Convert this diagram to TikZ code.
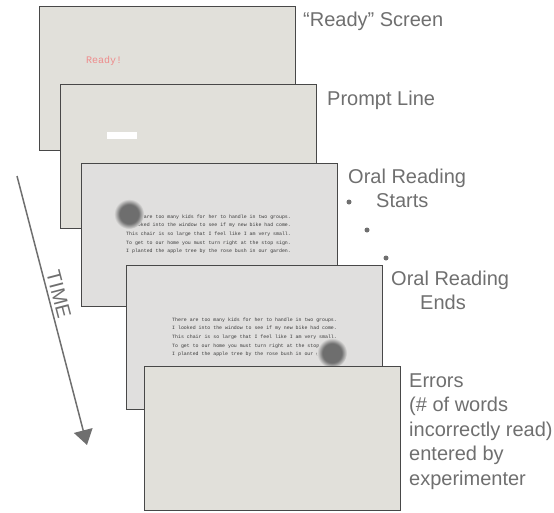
\documentclass[tikz,border=0pt]{standalone}
\usepackage{fontspec}
\usetikzlibrary{arrows.meta}
\newfontfamily\lsans{Liberation Sans}
\newfontfamily\lmono{Liberation Mono}
\definecolor{scrA}{HTML}{E1E0DA}
\definecolor{scrB}{HTML}{E0DFDE}
\definecolor{edgec}{HTML}{484848}
\definecolor{lbl}{HTML}{6F6F6F}
\definecolor{blobc}{HTML}{6E6E6E}
\definecolor{readyc}{HTML}{EE8C8C}
\definecolor{txtc}{HTML}{3A3A3A}
\pgfdeclareradialshading{blobshade}{\pgfpointorigin}{color(0bp)=(blobc); color(16bp)=(blobc); color(25bp)=(scrB); color(50bp)=(scrB)}
\begin{document}
\begin{tikzpicture}[x=1pt,y=-1pt,
  screen/.style={draw=edgec, line width=1.4pt, minimum width=256pt, minimum height=144pt, inner sep=0pt, anchor=north west},
  lab/.style={font=\lsans\fontsize{20}{24}\selectfont, text=lbl, anchor=base west, inner sep=0pt},
  rline/.style={font=\lmono\fontsize{4.9}{6}\selectfont, text=txtc, anchor=base west, inner sep=0pt},
  dotb/.style={circle, fill=lbl, inner sep=0pt, minimum size=5pt},
  timearrow/.style={draw=lbl, line width=1.5pt, -{Triangle[length=15pt,width=19pt]}}
]
\useasboundingbox (0,0) rectangle (554,512);

% screen 1
\node[screen, fill=scrA] (s1) at (39,6) {};
\node[font=\lmono\fontsize{10}{12}\selectfont, text=readyc, anchor=base west, inner sep=0pt] (ready) at (86,63) {Ready!};

% screen 2
\node[screen, fill=scrA] (s2) at (60,84) {};
\node[fill=white, minimum width=30pt, minimum height=7pt, inner sep=0pt, anchor=north west] (bar) at (107,132) {};

% screen 3
\node[screen, fill=scrB, minimum height=143pt] (s3) at (81,163) {};
\foreach \t [count=\i] in {{There are too many kids for her to handle in two groups.},
  {I looked into the window to see if my new bike had come.},
  {This chair is so large that I feel like I am very small.},
  {To get to our home you must turn right at the stop sign.},
  {I planted the apple tree by the rose bush in our garden.}}
  \node[rline] (a\i) at (126,{218+8.7*(\i-1)}) {\t};
\shade[shading=blobshade] (129,214) circle[radius=15pt];

% screen 4
\node[screen, fill=scrB] (s4) at (126,265) {};
\foreach \t [count=\i] in {{There are too many kids for her to handle in two groups.},
  {I looked into the window to see if my new bike had come.},
  {This chair is so large that I feel like I am very small.},
  {To get to our home you must turn right at the stop sign.},
  {I planted the apple tree by the rose bush in our garden.}}
  \node[rline] (b\i) at (172,{321+8.7*(\i-1)}) {\t};
\shade[shading=blobshade] (332,353) circle[radius=15pt];

% screen 5
\node[screen, fill=scrA] (s5) at (144,366) {};

% labels
\node[lab] (l1) at (303,26) {“Ready” Screen};
\node[lab] (l2) at (327,105) {Prompt Line};
\node[lab] (l3) at (348,183) {Oral Reading};
\node[lab] (l4) at (376,207) {Starts};
\node[dotb] (d1) at (349,202) {};
\node[dotb] (d2) at (367,230) {};
\node[dotb] (d3) at (386,258) {};
\node[lab] (l5) at (391,285) {Oral Reading};
\node[lab] (l6) at (420,309) {Ends};
\foreach \t [count=\i] in {{Errors},{(\# of words},{incorrectly read)},{entered by},{experimenter}}
  \node[lab] (e\i) at (409,{387+24.5*(\i-1)}) {\t};

% time arrow
\coordinate (t0) at (17,176);
\coordinate (t1) at (87,445);
\draw[timearrow] (t0) -- node[sloped, above, pos=0.45, inner sep=3pt, font=\lsans\fontsize{20}{24}\selectfont, text=lbl] (timelbl) {TIME} (t1);
\end{tikzpicture}
\end{document}
